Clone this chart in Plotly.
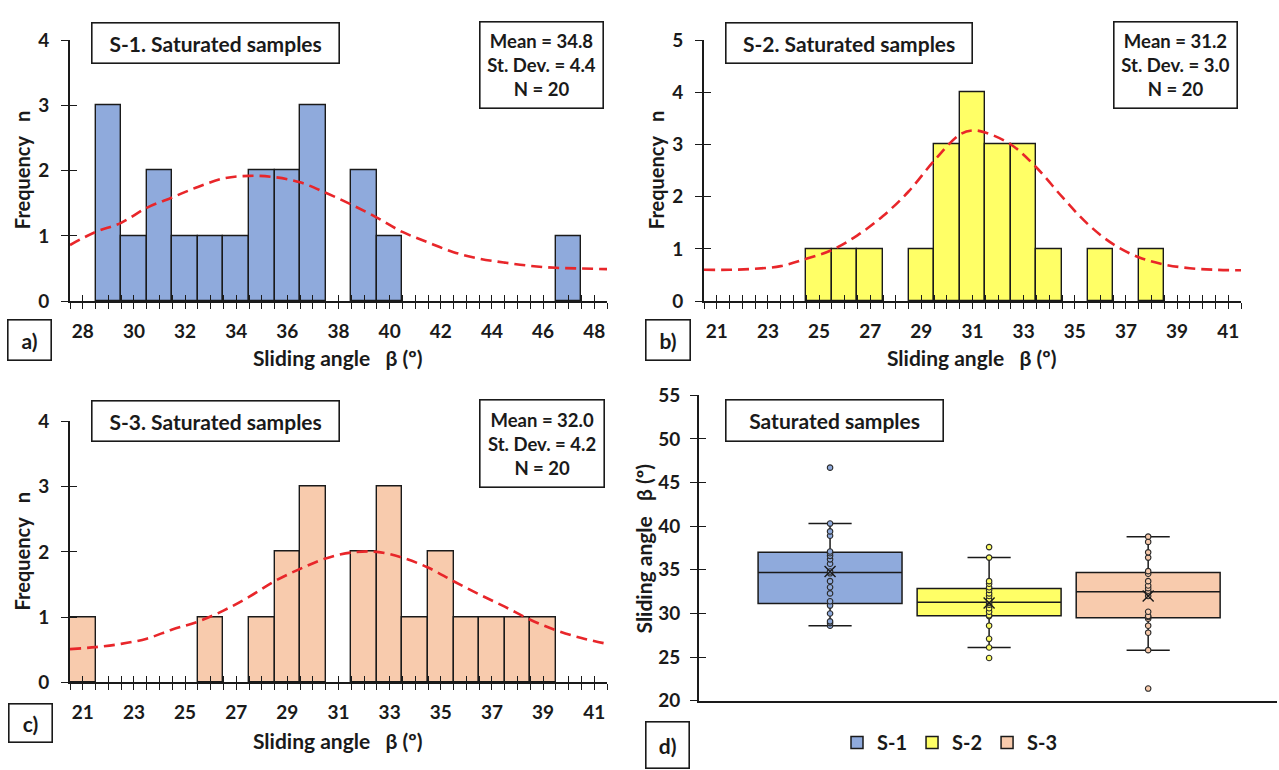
import numpy as np
import plotly.graph_objects as go

# ---------------- data ----------------
# Histogram bin centres (bin width = 1) and counts
s1_bins = [29, 30, 31, 32, 33, 34, 35, 36, 37, 38, 39, 40, 41, 42, 43, 44, 45, 46, 47]
s1_counts = [3, 1, 2, 1, 1, 1, 2, 2, 3, 0, 2, 1, 0, 0, 0, 0, 0, 0, 1]

s2_bins = [25, 26, 27, 28, 29, 30, 31, 32, 33, 34, 35, 36, 37, 38]
s2_counts = [1, 1, 1, 0, 1, 3, 4, 3, 3, 1, 0, 1, 0, 1]

s3_bins = [21, 22, 23, 24, 25, 26, 27, 28, 29, 30, 31, 32, 33, 34, 35, 36, 37, 38, 39]
s3_counts = [1, 0, 0, 0, 0, 1, 0, 1, 2, 3, 0, 2, 3, 1, 2, 1, 1, 1, 1]

# Fitted (dashed red) curves
s1_curve_x = [27.5, 28.5, 29.5, 30.5, 31.5, 32.5, 33.5, 34.5, 35.5, 36.5, 37.5,
              38.5, 39.5, 40.5, 41.5, 42.5, 43.5, 44.5, 45.5, 46.5, 47.5, 48.5]
s1_curve_y = [0.86, 1.06, 1.20, 1.43, 1.59, 1.75, 1.88, 1.92, 1.90, 1.82, 1.66,
              1.48, 1.28, 1.06, 0.90, 0.75, 0.65, 0.59, 0.54, 0.51, 0.50, 0.49]

s2_curve_x = [20.5, 21.5, 22.5, 23.5, 24.5, 25.5, 26.5, 27.5, 28.5, 29.5, 30.5, 31.0,
              31.5, 32.5, 33.5, 34.5, 35.5, 36.5, 37.5, 38.5, 39.5, 40.5, 41.5]
s2_curve_y = [0.60, 0.60, 0.62, 0.67, 0.81, 0.98, 1.26, 1.63, 2.10, 2.69, 3.19, 3.27,
              3.23, 3.00, 2.56, 2.00, 1.48, 1.09, 0.84, 0.70, 0.63, 0.60, 0.59]

s3_curve_x = [20.5, 21.5, 22.5, 23.5, 24.5, 25.5, 26.5, 27.5, 28.5, 29.5, 30.5,
              31.5, 32.5, 33.5, 34.5, 35.5, 36.5, 37.5, 38.5, 39.5, 40.5, 41.5]
s3_curve_y = [0.51, 0.54, 0.59, 0.67, 0.81, 0.93, 1.10, 1.31, 1.55, 1.74, 1.90,
              1.99, 2.00, 1.91, 1.76, 1.55, 1.35, 1.16, 0.96, 0.80, 0.68, 0.59]

# Individual sliding angles (box plot)
s1_values = [28.6, 28.9, 29.1, 30.0, 30.9, 31.4, 32.3, 33.0, 33.7, 34.6,
             34.8, 35.7, 36.2, 36.6, 36.9, 37.1, 38.9, 39.4, 40.3, 46.7]
s2_values = [24.9, 26.1, 27.1, 28.6, 29.7, 29.8, 30.2, 30.6, 31.0, 31.2,
             31.4, 31.6, 32.0, 32.3, 32.7, 33.0, 33.4, 33.7, 36.4, 37.6]
s3_values = [21.4, 25.8, 27.8, 28.6, 29.4, 29.6, 29.7, 30.2, 32.0, 32.4,
             32.6, 32.9, 33.2, 33.7, 34.55, 34.85, 36.4, 37.0, 38.2, 38.8]

series_names = ["S-1", "S-2", "S-3"]
means = [34.8, 31.2, 32.0]
st_devs = [4.4, 3.0, 4.2]
n_samples = [20, 20, 20]

# ---------------- styling ----------------
W, H = 1279, 770
FONT = "Lato"
TXT = "#1a1a1a"
FILLS = ["#8FAADC", "#FFFF66", "#F8CBAD"]
RED = "#E8262A"
TICK_SIZE = 19
SP = "\u00a0\u00a0\u00a0"


def px(x):
    return x / W


def py(y):
    return 1 - y / H


fig = go.Figure()

hist_panels = [
    dict(k="", bins=s1_bins, counts=s1_counts, cx=s1_curve_x, cy=s1_curve_y, fill=FILLS[0],
         xr=[27.5, 48.5], yr=[0, 4], dx=(70, 607), dy=(29, 298), labs=list(range(28, 49, 2))),
    dict(k="2", bins=s2_bins, counts=s2_counts, cx=s2_curve_x, cy=s2_curve_y, fill=FILLS[1],
         xr=[20.5, 41.5], yr=[0, 5], dx=(704, 1241), dy=(29, 298), labs=list(range(21, 42, 2))),
    dict(k="3", bins=s3_bins, counts=s3_counts, cx=s3_curve_x, cy=s3_curve_y, fill=FILLS[2],
         xr=[20.5, 41.5], yr=[0, 4], dx=(70, 607), dy=(422, 691), labs=list(range(21, 42, 2))),
]

layout_axes = {}
overlay_idx = 5

for p in hist_panels:
    k = p["k"]
    xa, ya = "x" + k, "y" + k
    bx = [b for b, c in zip(p["bins"], p["counts"]) if c > 0]
    by = [c for c in p["counts"] if c > 0]
    fig.add_trace(go.Bar(x=bx, y=by, width=1, xaxis=xa, yaxis=ya,
                         marker=dict(color=p["fill"], line=dict(color=TXT, width=1.4)),
                         showlegend=False, hoverinfo="x+y"))
    fig.add_trace(go.Scatter(x=p["cx"], y=p["cy"], mode="lines", xaxis=xa, yaxis=ya,
                             line=dict(color=RED, width=2.6, dash="11px,6px", shape="spline"),
                             showlegend=False, hoverinfo="skip"))
    tv = list(np.arange(p["xr"][0], p["xr"][1] + 0.01, 0.5))
    tt = [str(int(v)) if (float(v).is_integer() and int(v) in p["labs"]) else "" for v in tv]
    xdom = [px(p["dx"][0]), px(p["dx"][1])]
    ydom = [py(p["dy"][1]), py(p["dy"][0])]
    layout_axes["xaxis" + k] = dict(
        domain=xdom, range=p["xr"], anchor=ya, tickmode="array", tickvals=tv, ticktext=tt,
        ticks="outside", ticklen=6, tickwidth=1.4, tickcolor=TXT, showline=True,
        linecolor=TXT, linewidth=1.6, showgrid=False, zeroline=False, ticklabelstandoff=6,
        tickfont=dict(family=FONT, size=TICK_SIZE, color=TXT, weight="bold"), fixedrange=True)
    layout_axes["yaxis" + k] = dict(
        domain=ydom, range=p["yr"], anchor=xa, dtick=1, ticks="outside", ticklen=7,
        tickwidth=1.4, tickcolor=TXT, showline=True, linecolor=TXT, linewidth=1.6,
        showgrid=False, zeroline=False, ticklabelstandoff=8,
        tickfont=dict(family=FONT, size=TICK_SIZE, color=TXT, weight="bold"), fixedrange=True)
    # overlay axes so that ticks cross the axis lines
    ox, oy = overlay_idx, overlay_idx + 1
    overlay_idx += 2
    layout_axes["xaxis%d" % ox] = dict(
        domain=xdom, range=p["xr"], overlaying=xa, anchor="y%d" % oy, side="bottom",
        tickmode="array", tickvals=tv, ticks="inside", ticklen=6, tickwidth=1.4, tickcolor=TXT,
        showticklabels=False, showline=False, showgrid=False, zeroline=False, fixedrange=True)
    layout_axes["yaxis%d" % oy] = dict(
        domain=ydom, range=p["yr"], overlaying=ya, anchor="x%d" % ox, side="left", dtick=1,
        ticks="inside", ticklen=7, tickwidth=1.4, tickcolor=TXT, showticklabels=False,
        showline=False, showgrid=False, zeroline=False, fixedrange=True)
    fig.add_trace(go.Scatter(x=[], y=[], xaxis="x%d" % ox, yaxis="y%d" % oy,
                             showlegend=False, hoverinfo="skip"))

# ---------------- box plot (panel d) ----------------
box_values = [s1_values, s2_values, s3_values]
box_pos = [0, 1, 2]
for i, vals in enumerate(box_values):
    fig.add_trace(go.Box(y=vals, x0=box_pos[i], name=series_names[i], xaxis="x4", yaxis="y4",
                         width=0.905, quartilemethod="linear", boxpoints="all", pointpos=0,
                         jitter=0, whiskerwidth=0.3, fillcolor=FILLS[i],
                         line=dict(color=TXT, width=1.5),
                         marker=dict(symbol="circle", size=5.5, color=FILLS[i],
                                     line=dict(color="#2a2a2a", width=1.1)),
                         showlegend=True, legendgroup=series_names[i]))
fig.add_trace(go.Scatter(x=box_pos, y=means, mode="markers", xaxis="x4", yaxis="y4",
                         marker=dict(symbol="x-thin", size=11, line=dict(color=TXT, width=1.4)),
                         showlegend=False, hoverinfo="y"))

ddom_x = [px(699), px(1277)]
ddom_y = [py(710), py(395)]
layout_axes["xaxis4"] = dict(domain=ddom_x, range=[-0.824, 2.81], anchor="y4", showticklabels=False,
                             ticks="", showline=True, linecolor=TXT, linewidth=1.6, showgrid=False,
                             zeroline=False, fixedrange=True)
layout_axes["yaxis4"] = dict(domain=ddom_y, range=[20, 55], dtick=5, anchor="x4", ticks="outside",
                             ticklen=7, tickwidth=1.4, tickcolor=TXT, showline=True, linecolor=TXT,
                             linewidth=1.6, showgrid=False, zeroline=False, ticklabelstandoff=6,
                             tickfont=dict(family=FONT, size=TICK_SIZE, color=TXT, weight="bold"),
                             fixedrange=True)
ox, oy = overlay_idx, overlay_idx + 1
layout_axes["xaxis%d" % ox] = dict(domain=ddom_x, range=[-0.824, 2.81], overlaying="x4",
                                   anchor="y%d" % oy, showticklabels=False, ticks="",
                                   showline=False, showgrid=False, zeroline=False, fixedrange=True)
layout_axes["yaxis%d" % oy] = dict(domain=ddom_y, range=[20, 55], dtick=5, overlaying="y4",
                                   anchor="x%d" % ox, side="left", ticks="inside", ticklen=7,
                                   tickwidth=1.4, tickcolor=TXT, showticklabels=False,
                                   showline=False, showgrid=False, zeroline=False,
                                   fixedrange=True)
fig.add_trace(go.Scatter(x=[], y=[], xaxis="x%d" % ox, yaxis="y%d" % oy,
                         showlegend=False, hoverinfo="skip"))

# ---------------- annotations ----------------
ann = []


def box_text(text, x0, y0, x1, y1, size):
    ann.append(dict(text=text, xref="paper", yref="paper", x=px(x0), y=py(y0),
                    xanchor="left", yanchor="top", showarrow=False, align="center",
                    width=x1 - x0 - 2, height=y1 - y0 - 2, borderpad=0, valign="middle",
                    bordercolor=TXT, borderwidth=1.6, bgcolor="white",
                    font=dict(family=FONT, size=size, color=TXT, weight="bold")))


def free_text(text, x, y, size, angle=0):
    ann.append(dict(text=text, xref="paper", yref="paper", x=px(x), y=py(y), xanchor="center",
                    yanchor="middle", showarrow=False, textangle=angle,
                    font=dict(family=FONT, size=size, color=TXT, weight="bold")))


def stats(i):
    return "Mean = %.1f<br>St. Dev. = %.1f<br>N = %d" % (means[i], st_devs[i], n_samples[i])


TITLE = 21
STAT = 18.5
AXT = 21
LAB = 21
XT = "Sliding angle" + SP + "β (º)"
FT = "Frequency" + SP + "n"

# panel a
box_text("S-1. Saturated samples", 91, 10, 339, 51, TITLE)
box_text(stats(0), 479, 9, 603, 96, STAT)
box_text("a)", 7, 316, 51, 357, LAB)
free_text(XT, 338, 356, AXT)
free_text(FT, 22, 163, 20, -90)
# panel b
box_text("S-2. Saturated samples", 725, 10, 972, 51, TITLE)
box_text(stats(1), 1113, 9, 1237, 96, STAT)
box_text("b)", 645, 316, 690, 357, LAB)
free_text(XT, 972, 356, AXT)
free_text(FT, 656, 163, 20, -90)
# panel c
box_text("S-3. Saturated samples", 91, 400, 339, 441, TITLE)
box_text(stats(2), 479, 399, 604, 487, STAT)
box_text("c)", 8, 712, 52, 751, LAB)
free_text(XT, 338, 751, AXT)
free_text(FT, 22, 556, 20, -90)
# panel d
box_text("Saturated samples", 725, 399, 943, 441, TITLE)
box_text("d)", 645, 731, 689, 778, LAB)
free_text(XT, 643, 553, AXT, -90)

fig.update_layout(
    width=W, height=H, margin=dict(l=0, r=0, t=0, b=0),
    paper_bgcolor="white", plot_bgcolor="rgba(0,0,0,0)",
    bargap=0, annotations=ann, boxmode="overlay",
    legend=dict(orientation="h", x=px(950), y=py(753), xanchor="center", yanchor="middle",
                font=dict(family=FONT, size=20, color=TXT, weight="bold"),
                itemwidth=30, bgcolor="rgba(0,0,0,0)", tracegroupgap=0),
    **layout_axes,
)

fig.write_html("out.html")
